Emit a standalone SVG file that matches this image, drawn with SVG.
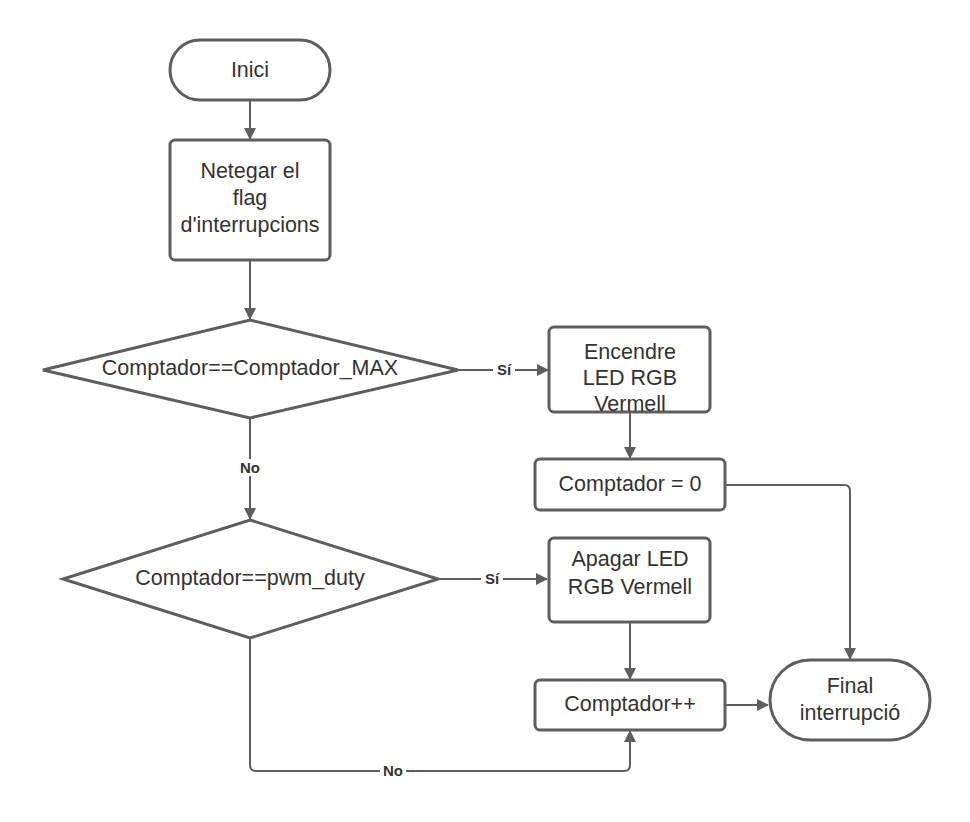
<svg xmlns="http://www.w3.org/2000/svg" width="970" height="822" viewBox="0 0 970 822">
  <style>
    .shape { fill: #ffffff; stroke: #5e5e5e; stroke-width: 3; }
    .conn { fill: none; stroke: #5e5e5e; stroke-width: 2; }
    .txt { font-family: "Liberation Sans", Arial, sans-serif; font-size: 21.5px; fill: #333333; text-anchor: middle; }
    .lbl { font-family: "Liberation Sans", Arial, sans-serif; font-size: 15px; font-weight: bold; fill: #333333; text-anchor: middle; }
    .lblbg { fill: #ffffff; }
  </style>
  <defs>
    <marker id="arrow" markerWidth="12" markerHeight="12" refX="11" refY="6" orient="auto" markerUnits="userSpaceOnUse">
      <path d="M0,0 L12,6 L0,12 Z" fill="#5e5e5e"/>
    </marker>
  </defs>
  <rect width="970" height="822" fill="#ffffff"/>

  <g id="connectors">
    <path class="conn" d="M250,100 L250,139" marker-end="url(#arrow)"/>
    <path class="conn" d="M250,260 L250,319" marker-end="url(#arrow)"/>
    <path class="conn" d="M458,370 L548,370" marker-end="url(#arrow)"/>
    <path class="conn" d="M630,412 L630,458" marker-end="url(#arrow)"/>
    <path class="conn" d="M725,485 L844,485 Q850,485 850,491 L850,659" marker-end="url(#arrow)"/>
    <path class="conn" d="M250,418 L250,519" marker-end="url(#arrow)"/>
    <path class="conn" d="M438,579 L547,579" marker-end="url(#arrow)"/>
    <path class="conn" d="M630,622 L630,679" marker-end="url(#arrow)"/>
    <path class="conn" d="M725,705 L768,705" marker-end="url(#arrow)"/>
    <path class="conn" d="M250,638 L250,765 Q250,771 256,771 L624,771 Q630,771 630,765 L630,731" marker-end="url(#arrow)"/>
    <!-- edge labels -->
    <rect class="lblbg" x="493" y="361" width="22" height="17"/>
    <text class="lbl" x="504" y="375">Sí</text>
    <rect class="lblbg" x="237" y="459" width="26" height="17"/>
    <text class="lbl" x="250" y="473">No</text>
    <rect class="lblbg" x="481" y="570" width="22" height="17"/>
    <text class="lbl" x="492" y="584">Sí</text>
    <rect class="lblbg" x="380" y="762" width="26" height="17"/>
    <text class="lbl" x="393" y="776">No</text>
  </g>

  <g id="inici">
    <rect class="shape" x="170" y="40" width="160" height="60" rx="30" ry="30"/>
    <text class="txt" x="250" y="77">Inici</text>
  </g>

  <g id="netegar">
    <rect class="shape" x="170" y="140" width="160" height="120" rx="5" ry="5"/>
    <text class="txt" x="250" y="178">Netegar el</text>
    <text class="txt" x="250" y="205">flag</text>
    <text class="txt" x="250" y="232">d'interrupcions</text>
  </g>

  <g id="decisio-max">
    <polygon class="shape" points="250,320 458,370 250,418 43,370"/>
    <text class="txt" x="250" y="375">Comptador==Comptador_MAX</text>
  </g>

  <g id="encendre">
    <rect class="shape" x="549" y="327" width="161" height="85" rx="5" ry="5"/>
    <text class="txt" x="630" y="359">Encendre</text>
    <text class="txt" x="630" y="385">LED RGB</text>
    <text class="txt" x="630" y="411">Vermell</text>
  </g>

  <g id="reset">
    <rect class="shape" x="535" y="459" width="190" height="51" rx="5" ry="5"/>
    <text class="txt" x="630" y="491">Comptador = 0</text>
  </g>

  <g id="decisio-duty">
    <polygon class="shape" points="250,520 438,579 250,638 63,579"/>
    <text class="txt" x="250" y="585">Comptador==pwm_duty</text>
  </g>

  <g id="apagar">
    <rect class="shape" x="549" y="538" width="161" height="84" rx="5" ry="5"/>
    <text class="txt" x="630" y="566">Apagar LED</text>
    <text class="txt" x="630" y="594">RGB Vermell</text>
  </g>

  <g id="incrementa">
    <rect class="shape" x="535" y="680" width="190" height="50" rx="5" ry="5"/>
    <text class="txt" x="630" y="711">Comptador++</text>
  </g>

  <g id="final">
    <rect class="shape" x="770" y="660" width="160" height="80" rx="40" ry="40"/>
    <text class="txt" x="850" y="693">Final</text>
    <text class="txt" x="850" y="720">interrupció</text>
  </g>
</svg>
